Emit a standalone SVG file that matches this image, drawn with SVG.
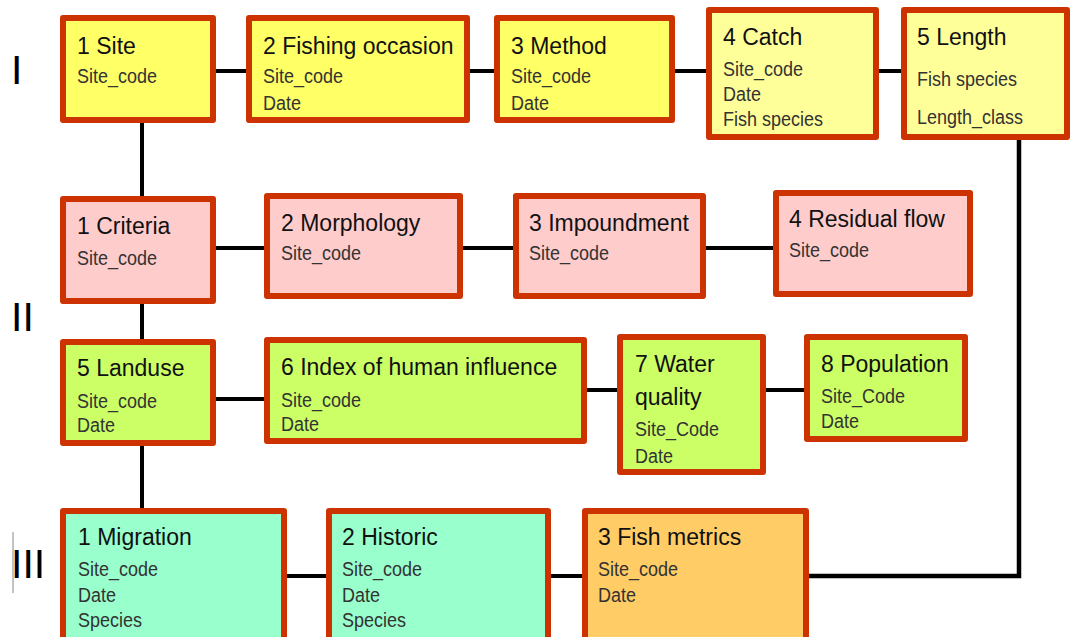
<svg xmlns="http://www.w3.org/2000/svg" width="1071" height="637" viewBox="0 0 1071 637">
  <style>
    .box { stroke: #CC3300; stroke-width: 6; stroke-linejoin: round; }
    .y1 { fill: #FFFF66; }
    .y2 { fill: #FFFF99; }
    .pk { fill: #FFCCCC; }
    .gr { fill: #CCFF66; }
    .tq { fill: #99FFCC; }
    .or { fill: #FFCC66; }
    .t { font-family: "Liberation Sans", Arial, sans-serif; font-size: 23px; fill: #111; }
    .s { font-family: "Liberation Sans", Arial, sans-serif; font-size: 18px; fill: #333; }
    .lvl { font-family: "Liberation Sans", Arial, sans-serif; font-size: 41px; fill: #000; }
    .conn line, .conn polyline { stroke: #000; stroke-width: 4; stroke-linecap: round; fill: none; }
  </style>

  <rect width="1071" height="637" fill="#FFFFFF"/>

  <!-- level labels -->
  <g id="levels">
    <text class="lvl" x="11" y="84">I</text>
    <text class="lvl" x="11" y="331">II</text>
    <line x1="13" y1="532" x2="13" y2="593" stroke="#888" stroke-width="1"/>
    <text class="lvl" x="11" y="578">III</text>
  </g>

  <!-- connectors -->
  <g id="connectors" class="conn">
    <line x1="214" y1="71" x2="248" y2="71"/>
    <line x1="468" y1="71" x2="496" y2="71"/>
    <line x1="673" y1="71" x2="708" y2="71"/>
    <line x1="877" y1="71" x2="903" y2="71"/>
    <line x1="142" y1="121" x2="142" y2="198"/>
    <line x1="214" y1="248" x2="266" y2="248"/>
    <line x1="461" y1="248" x2="515" y2="248"/>
    <line x1="704" y1="248" x2="775" y2="248"/>
    <line x1="142" y1="302" x2="142" y2="341"/>
    <line x1="214" y1="399" x2="266" y2="399"/>
    <line x1="585" y1="390" x2="619" y2="390"/>
    <line x1="764" y1="390" x2="806" y2="390"/>
    <line x1="142" y1="444" x2="142" y2="510"/>
    <line x1="285" y1="576" x2="328" y2="576"/>
    <line x1="549" y1="576" x2="584" y2="576"/>
    <polyline points="807,576 1019,576 1019,138" style="stroke-width:4.5;stroke-linecap:butt;stroke-linejoin:miter"/>
  </g>

  <!-- level I -->
  <g id="site">
    <rect class="box y1" x="63" y="18" width="150" height="102"/>
    <text class="t" x="77" y="54">1 Site</text>
    <text class="s" transform="translate(77 83) scale(1 1.12)">Site_code</text>
  </g>
  <g id="fishing-occasion">
    <rect class="box y1" x="249" y="18" width="218" height="102"/>
    <text class="t" x="263" y="54">2 Fishing occasion</text>
    <text class="s" transform="translate(263 83) scale(1 1.12)">Site_code</text>
    <text class="s" transform="translate(263 110) scale(1 1.12)">Date</text>
  </g>
  <g id="method">
    <rect class="box y1" x="497" y="18" width="175" height="102"/>
    <text class="t" x="511" y="54">3 Method</text>
    <text class="s" transform="translate(511 83) scale(1 1.12)">Site_code</text>
    <text class="s" transform="translate(511 110) scale(1 1.12)">Date</text>
  </g>
  <g id="catch">
    <rect class="box y2" x="709" y="10" width="167" height="127"/>
    <text class="t" x="723" y="45">4 Catch</text>
    <text class="s" transform="translate(723 76) scale(1 1.12)">Site_code</text>
    <text class="s" transform="translate(723 101) scale(1 1.12)">Date</text>
    <text class="s" transform="translate(723 126) scale(1 1.12)">Fish species</text>
  </g>
  <g id="length">
    <rect class="box y2" x="904" y="10" width="163" height="127"/>
    <text class="t" x="917" y="45">5 Length</text>
    <text class="s" transform="translate(917 86) scale(1 1.12)">Fish species</text>
    <text class="s" transform="translate(917 124) scale(1 1.12)">Length_class</text>
  </g>

  <!-- level II -->
  <g id="criteria">
    <rect class="box pk" x="63" y="199" width="150" height="102"/>
    <text class="t" x="77" y="234">1 Criteria</text>
    <text class="s" transform="translate(77 265) scale(1 1.12)">Site_code</text>
  </g>
  <g id="morphology">
    <rect class="box pk" x="267" y="196" width="193" height="100"/>
    <text class="t" x="281" y="231">2 Morphology</text>
    <text class="s" transform="translate(281 260) scale(1 1.12)">Site_code</text>
  </g>
  <g id="impoundment">
    <rect class="box pk" x="516" y="196" width="187" height="100"/>
    <text class="t" x="529" y="231">3 Impoundment</text>
    <text class="s" transform="translate(529 260) scale(1 1.12)">Site_code</text>
  </g>
  <g id="residual-flow">
    <rect class="box pk" x="776" y="193" width="194" height="101"/>
    <text class="t" x="789" y="227">4 Residual flow</text>
    <text class="s" transform="translate(789 257) scale(1 1.12)">Site_code</text>
  </g>
  <g id="landuse">
    <rect class="box gr" x="63" y="342" width="150" height="101"/>
    <text class="t" x="77" y="376">5 Landuse</text>
    <text class="s" transform="translate(77 408) scale(1 1.12)">Site_code</text>
    <text class="s" transform="translate(77 432) scale(1 1.12)">Date</text>
  </g>
  <g id="human-influence">
    <rect class="box gr" x="267" y="340" width="317" height="101"/>
    <text class="t" x="281" y="375">6 Index of human influence</text>
    <text class="s" transform="translate(281 407) scale(1 1.12)">Site_code</text>
    <text class="s" transform="translate(281 431) scale(1 1.12)">Date</text>
  </g>
  <g id="water-quality">
    <rect class="box gr" x="620" y="337" width="143" height="135"/>
    <text class="t" x="635" y="372">7 Water</text>
    <text class="t" x="635" y="405">quality</text>
    <text class="s" transform="translate(635 436) scale(1 1.12)">Site_Code</text>
    <text class="s" transform="translate(635 463) scale(1 1.12)">Date</text>
  </g>
  <g id="population">
    <rect class="box gr" x="807" y="337" width="158" height="102"/>
    <text class="t" x="821" y="372">8 Population</text>
    <text class="s" transform="translate(821 403) scale(1 1.12)">Site_Code</text>
    <text class="s" transform="translate(821 428) scale(1 1.12)">Date</text>
  </g>

  <!-- level III -->
  <g id="migration">
    <rect class="box tq" x="63" y="511" width="221" height="140"/>
    <text class="t" x="78" y="545">1 Migration</text>
    <text class="s" transform="translate(78 576) scale(1 1.12)">Site_code</text>
    <text class="s" transform="translate(78 602) scale(1 1.12)">Date</text>
    <text class="s" transform="translate(78 627) scale(1 1.12)">Species</text>
  </g>
  <g id="historic">
    <rect class="box tq" x="329" y="511" width="219" height="140"/>
    <text class="t" x="342" y="545">2 Historic</text>
    <text class="s" transform="translate(342 576) scale(1 1.12)">Site_code</text>
    <text class="s" transform="translate(342 602) scale(1 1.12)">Date</text>
    <text class="s" transform="translate(342 627) scale(1 1.12)">Species</text>
  </g>
  <g id="fish-metrics">
    <rect class="box or" x="585" y="511" width="221" height="140"/>
    <text class="t" x="598" y="545">3 Fish metrics</text>
    <text class="s" transform="translate(598 576) scale(1 1.12)">Site_code</text>
    <text class="s" transform="translate(598 602) scale(1 1.12)">Date</text>
  </g>
</svg>
